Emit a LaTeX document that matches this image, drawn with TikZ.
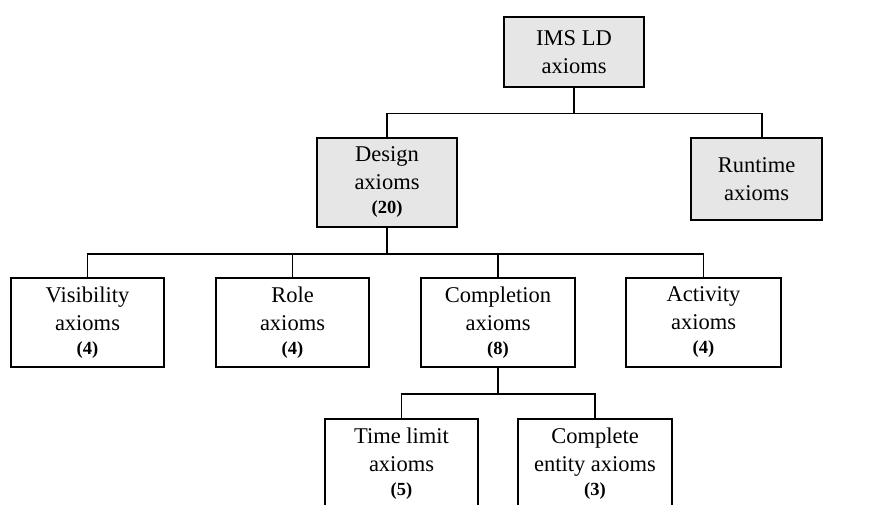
\documentclass[tikz,border=0pt]{standalone}
\usepackage{fontspec}
\setmainfont{Liberation Serif}
\begin{document}
\begin{tikzpicture}[x=1pt,y=-1pt,
  box/.style={draw=black,line width=1.5pt,rectangle,inner sep=0pt,align=center,
    font=\fontsize{22.5}{28}\selectfont},
  graybox/.style={box,fill=boxgray},
  conn/.style={draw=black,line width=1.5pt}]
\definecolor{boxgray}{HTML}{E6E6E6}
\newcommand{\cnum}[1]{\\[-4pt]{\fontsize{18.5}{20}\selectfont\bfseries #1}}
\useasboundingbox (0,0) rectangle (874,505);
\clip (0,0) rectangle (874,505);
\node[graybox,minimum width=140,minimum height=70] (ims) at (574,52) {IMS LD\\axioms};
\node[graybox,minimum width=140,minimum height=89] (design) at (387,182.5) {Design\\axioms\cnum{(20)}};
\node[graybox,minimum width=131,minimum height=82] (runtime) at (756.5,179) {Runtime\\axioms};
\node[box,minimum width=153,minimum height=89] (vis) at (87.5,322.5) {Visibility\\axioms\cnum{(4)}};
\node[box,minimum width=153,minimum height=89] (role) at (292.5,322.5) {Role\\axioms\cnum{(4)}};
\node[box,minimum width=154,minimum height=89] (compl) at (498,322.5) {Completion\\axioms\cnum{(8)}};
\node[box,minimum width=155,minimum height=89] (act) at (703.5,322.5) {Activity\\axioms\cnum{(4)}};
\node[box,minimum width=153,minimum height=89] (time) at (401.5,463.5) {Time limit\\axioms\cnum{(5)}};
\node[box,minimum width=154,minimum height=89] (entity) at (595,463.5) {Complete\\entity axioms\cnum{(3)}};
% connectors
\draw[conn] (ims.south) -- ++(0,26) coordinate (j1);
\draw[conn] (design.north) |- (j1) -| ([xshift=5.5pt]runtime.north);
\draw[conn] (design.south) -- ++(0,26) coordinate (j2);
\draw[conn] (vis.north) |- (j2) -| (act.north);
\draw[conn] (role.north) -- (role.north |- j2);
\draw[conn] (compl.north) -- (compl.north |- j2);
\draw[conn] (compl.south) -- ++(0,26) coordinate (j3);
\draw[conn] (time.north) |- (j3) -| (entity.north);
\end{tikzpicture}
\end{document}
